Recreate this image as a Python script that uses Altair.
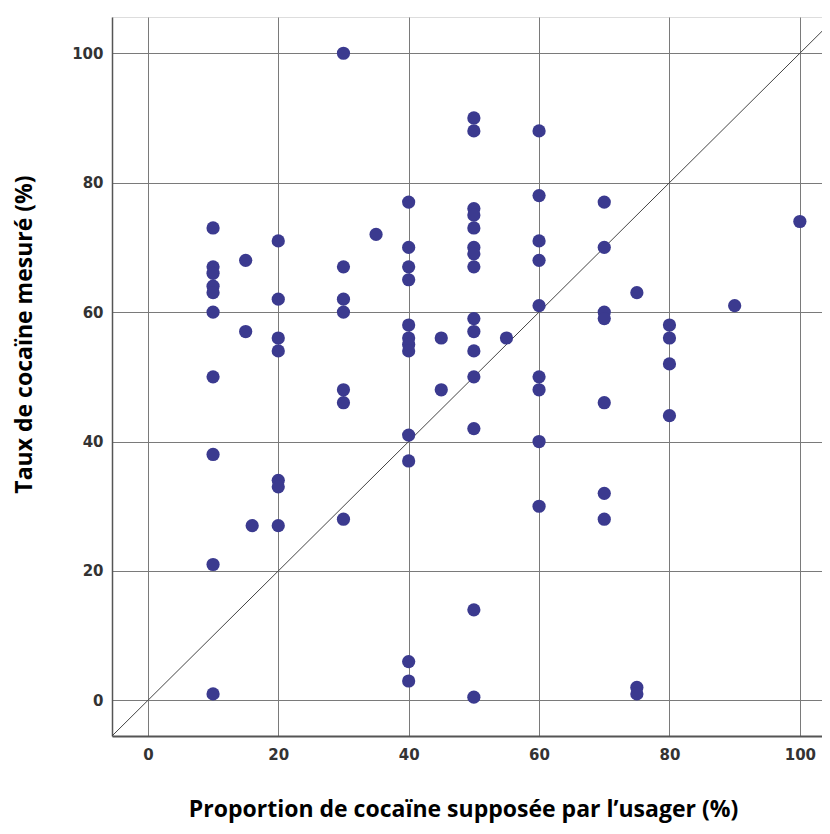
import altair as alt
import pandas as pd

# Data
x_vals = [10, 10, 10, 10, 10, 10, 10, 10, 10, 10,
          15, 15,
          16,
          20, 20, 20, 20, 20, 20, 20,
          30, 30, 30, 30, 30, 30, 30,
          35,
          40, 40, 40, 40, 40, 40, 40, 40, 40, 40, 40, 40,
          45, 45,
          50, 50, 50, 50, 50, 50, 50, 50, 50, 50, 50, 50, 50, 50, 50,
          55,
          60, 60, 60, 60, 60, 60, 60, 60, 60,
          70, 70, 70, 70, 70, 70, 70,
          75, 75, 75,
          80, 80, 80, 80,
          90,
          100]
y_vals = [73, 67, 66, 64, 63, 60, 50, 38, 21, 1,
          68, 57,
          27,
          71, 62, 56, 54, 34, 33, 27,
          100, 67, 62, 60, 48, 46, 28,
          72,
          77, 70, 67, 65, 58, 56, 55, 54, 41, 37, 6, 3,
          56, 48,
          90, 88, 76, 75, 73, 70, 69, 67, 59, 57, 54, 50, 42, 14, 0.5,
          56,
          88, 78, 71, 68, 61, 50, 48, 40, 30,
          77, 70, 60, 59, 46, 32, 28,
          63, 2, 1,
          58, 56, 52, 44,
          61,
          74]

diag_vals = [-5.5, 105.5]   # identity reference line y = x
tick_vals = [0, 20, 40, 60, 80, 100]

x_title = "Proportion de cocaïne supposée par l’usager (%)"
y_title = "Taux de cocaïne mesuré (%)"

pts = pd.DataFrame({"x": x_vals, "y": y_vals})
diag = pd.DataFrame({"x": diag_vals, "y": diag_vals})

W, H = 710, 719
xdom = [-5.5, -5.5 + W / 6.52]
ydom = [-5.5, 105.6]

title_font = "Open Sans"
label_font = "DejaVu Sans"

xscale = alt.Scale(domain=xdom, nice=False, zero=False)
yscale = alt.Scale(domain=ydom, nice=False, zero=False)

xaxis = alt.Axis(
    values=tick_vals, title=x_title, grid=True, ticks=False,
    gridColor="#7a7a7a", gridWidth=1, gridOpacity=1,
    domainColor="#555555", domainWidth=2,
    labelFont=label_font, labelFontSize=15, labelFontWeight="bold",
    labelColor="#333333", labelPadding=11,
    titleFont=title_font, titleFontSize=23, titleFontWeight="bold",
    titleColor="#000000", titleX=351, titleY=80, titleAlign="center",
    titleBaseline="alphabetic",
)
yaxis = alt.Axis(
    values=tick_vals, title=y_title, grid=True, ticks=False,
    gridColor="#7a7a7a", gridWidth=1, gridOpacity=1,
    domainColor="#555555", domainWidth=1.5,
    labelFont=label_font, labelFontSize=15, labelFontWeight="bold",
    labelColor="#333333", labelPadding=9,
    titleFont=title_font, titleFontSize=23, titleFontWeight="bold",
    titleColor="#000000", titleX=-88, titleY=317, titleAngle=270,
    titleAlign="center", titleBaseline="middle",
)

line = alt.Chart(diag).mark_line(color="#444444", strokeWidth=1, clip=True).encode(
    x=alt.X("x:Q", scale=xscale, axis=xaxis),
    y=alt.Y("y:Q", scale=yscale, axis=yaxis),
)

points = alt.Chart(pts).mark_circle(size=175, color="#3b3a8f", opacity=1).encode(
    x=alt.X("x:Q", scale=xscale, axis=xaxis),
    y=alt.Y("y:Q", scale=yscale, axis=yaxis),
)

chart = alt.layer(line, points).properties(
    width=W, height=H,
    autosize=alt.AutoSizeParams(type="none"),
    padding={"left": 104, "top": 9, "right": 0, "bottom": 90},
).configure_view(stroke=None).configure(background="white")

chart.save("out.html", embed_options={"renderer": "svg", "actions": False})
